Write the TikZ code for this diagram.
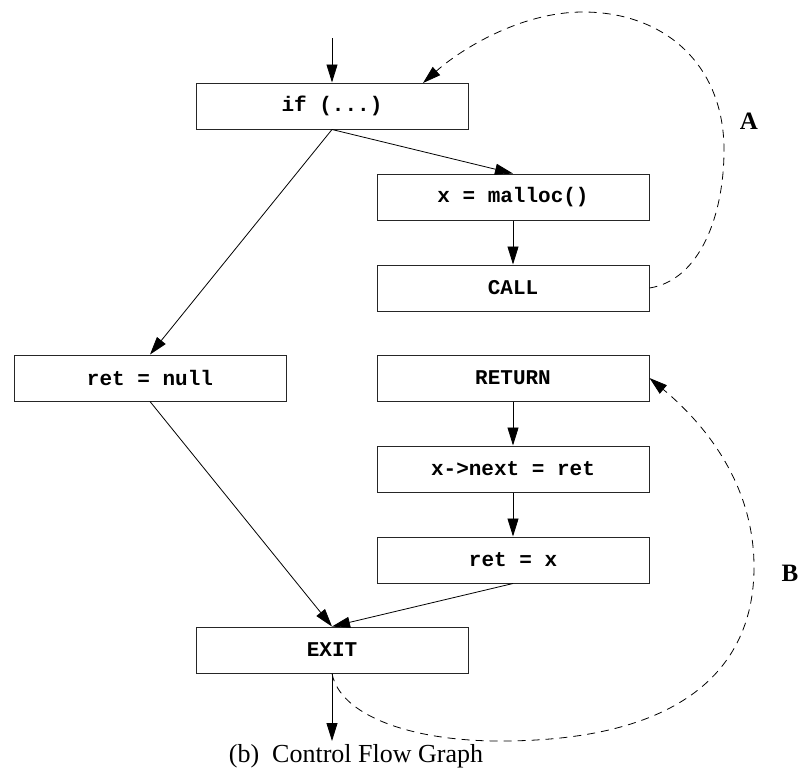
\documentclass[tikz,border=0pt]{standalone}
\usepackage{fontspec}
\setmainfont{Liberation Serif}
\setmonofont{Liberation Mono}
\usetikzlibrary{arrows.meta,calc}
\tikzset{
  blk/.style={draw=black!85, line width=1pt, minimum width=272pt, minimum height=46pt,
    inner sep=0pt, font=\ttfamily\bfseries\fontsize{21}{25}\selectfont},
  flow/.style={line width=0.8pt, -{Triangle[length=18pt,width=11pt]}},
  back/.style={line width=0.8pt, dash pattern=on 8pt off 6pt, -{Triangle[length=18pt,width=11pt]}},
  lbl/.style={font=\bfseries\fontsize{25}{30}\selectfont}
}
\begin{document}
\begin{tikzpicture}[x=1pt,y=-1pt]
\useasboundingbox (0,0) rectangle (799,772);
\node[blk] (if) at (332,106) {if (...)};
\node[blk] (malloc) at (513,197) {x = malloc()};
\node[blk] (call) at (513,288) {CALL};
\node[blk] (null) at (150,378) {ret = null};
\node[blk] (ret) at (513,378) {RETURN};
\node[blk] (next) at (513,469) {x->next = ret};
\node[blk] (retx) at (513,560) {ret = x};
\node[blk] (exit) at (332,650) {EXIT};
\coordinate (start) at (332,38);
\coordinate (end) at (332,741);
\coordinate (iftop) at (423,83);
\node[font=\fontsize{26}{30}\selectfont, anchor=base] (cap) at (356,762) {(b)\enspace Control Flow Graph};
\node[lbl] (A) at (749,121) {A};
\node[lbl] (B) at (790,573) {B};
\draw[flow] (start) -- (if.north);
\draw[flow] (if.south) -- (null.north);
\draw[flow] (if.south) -- (malloc.north);
\draw[flow] (malloc) -- (call);
\draw[flow] (ret) -- (next);
\draw[flow] (next) -- (retx);
\draw[flow] (null.south) -- (exit.north);
\draw[flow] (retx.south) -- (exit.north);
\draw[flow] (exit.south) -- (end);
\draw[back] (call.east) .. controls (700,280) and (724,215) .. (724,150)
  .. controls (724,65) and (665,12) .. (583,12)
  .. controls (520,12) and (460,50) .. (iftop);
\draw[back] (exit.south) .. controls (340,715) and (410,741) .. (500,741)
  .. controls (680,741) and (754,670) .. (754,567)
  .. controls (754,480) and (700,420) .. (ret.east);
\end{tikzpicture}
\end{document}
